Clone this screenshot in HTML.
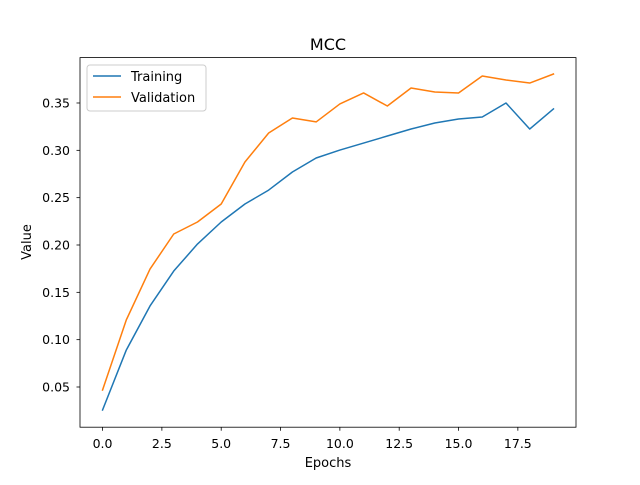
<!DOCTYPE html>
<html><head><meta charset="utf-8"><style>
body{margin:0;background:#fff}
svg text{font-family:"DejaVu Sans","Liberation Sans",sans-serif;fill:#000}
</style></head><body>
<svg id="chart" width="640" height="480">
<rect width="640" height="480" fill="#fff"/>
<text x="328" y="50" font-size="16" text-anchor="middle">MCC</text>
<g id="axes"></g>
<g id="lines"></g>
<rect x="80" y="57.6" width="496" height="369.6" fill="none" stroke="#000" stroke-width="0.8"/>
<text x="328" y="467" font-size="13" text-anchor="middle">Epochs</text>
<text x="31" y="242" font-size="13" text-anchor="middle" transform="rotate(-90 31 242)">Value</text>
<g>
<rect x="87" y="65" width="119" height="46" rx="3" fill="#fff" fill-opacity="0.8" stroke="#ccc"/>
<g><line x1="93" y1="76" x2="121" y2="76" stroke="#1f77b4" stroke-width="1.5"/><text x="131" y="81" font-size="13">Training</text></g>
<g><line x1="93" y1="97" x2="121" y2="97" stroke="#ff7f0e" stroke-width="1.5"/><text x="131" y="102" font-size="13">Validation</text></g>
</g>
</svg>
<script>
const epochs=[0,1,2,3,4,5,6,7,8,9,10,11,12,13,14,15,16,17,18,19];
const training=[0.0257,0.089,0.1356,0.1725,0.201,0.2243,0.2433,0.258,0.2771,0.2919,0.3003,0.3077,0.3151,0.3225,0.3289,0.3331,0.3352,0.35,0.3225,0.3437];
const validation=[0.0468,0.1208,0.1746,0.2116,0.2243,0.2433,0.2877,0.3183,0.3342,0.33,0.349,0.3606,0.3468,0.3658,0.3616,0.3606,0.3785,0.3743,0.3711,0.3806];
const xTicks=[0,2.5,5,7.5,10,12.5,15,17.5];
const xTickLabels=["0.0","2.5","5.0","7.5","10.0","12.5","15.0","17.5"];
const yTicks=[0.05,0.10,0.15,0.20,0.25,0.30,0.35];
const yTickLabels=["0.05","0.10","0.15","0.20","0.25","0.30","0.35"];
const NS="http://www.w3.org/2000/svg";
const X=v=>80+(v+0.95)*496/20.9;
const Y=v=>387-(v-0.05)*946.7;
const axes=document.getElementById('axes'),lines=document.getElementById('lines');
function mk(t,a,p){const e=document.createElementNS(NS,t);for(const k in a)e.setAttribute(k,a[k]);p.appendChild(e);return e;}
xTicks.forEach((t,i)=>{
 const l=mk('line',{x1:X(t),x2:X(t),y1:427.2,y2:430.7,stroke:'#000','stroke-width':0.8},axes);
 
 
 const s=mk('text',{x:X(t),y:448,'font-size':12.5,'text-anchor':'middle'},axes);s.textContent=xTickLabels[i];
 
 
});
yTicks.forEach((t,i)=>{
 const l=mk('line',{x1:76.5,x2:80,y1:Y(t),y2:Y(t),stroke:'#000','stroke-width':0.8},axes);
 
 
 const s=mk('text',{x:70,y:Y(t)+4.5,'font-size':12.5,'text-anchor':'end'},axes);s.textContent=yTickLabels[i];
 
 
});
function series(d,c,n){
 const p=mk('polyline',{points:d.map((v,i)=>X(epochs[i])+','+Y(v)).join(' '),fill:'none',stroke:c,'stroke-width':1.5,'stroke-linejoin':'round','stroke-linecap':'square'},lines);
 
 
}
series(training,'#1f77b4','training-line');
series(validation,'#ff7f0e','validation-line');
</script>
</body></html>
